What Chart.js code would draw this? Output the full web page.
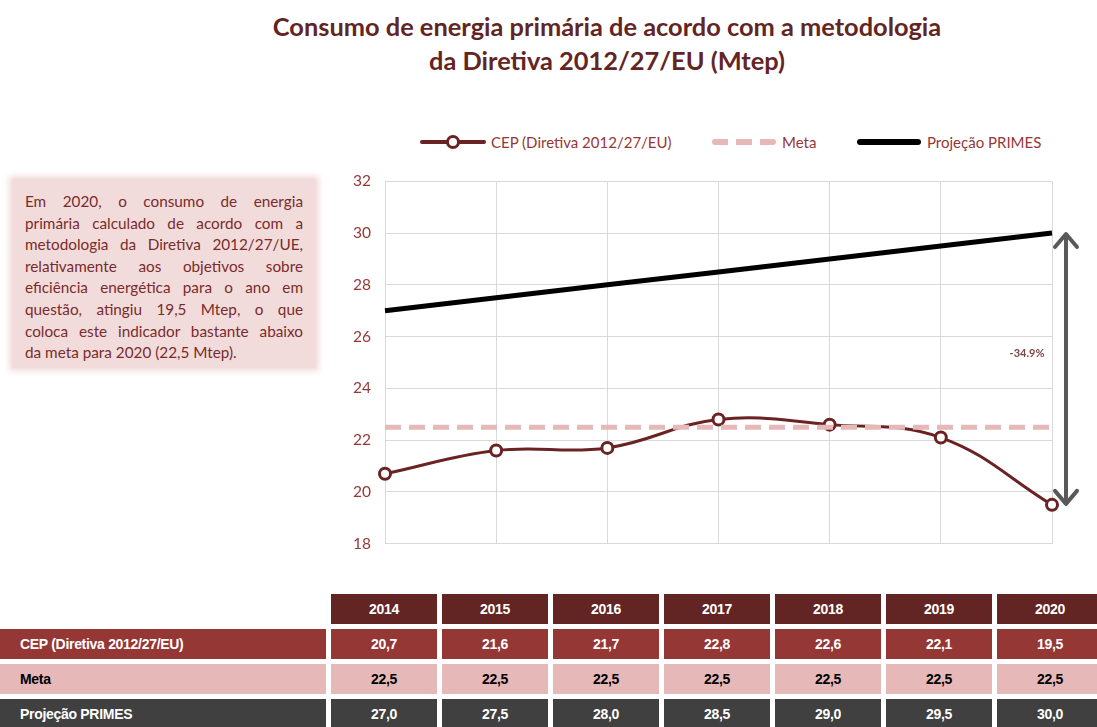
<!DOCTYPE html>
<html>
<head>
<meta charset="utf-8">
<script src="https://cdn.jsdelivr.net/npm/chart.js@4/dist/chart.umd.min.js"></script>
<style>
  body { margin: 0; width: 1097px; height: 727px; overflow: hidden; background: #fff; font-family: Lato, "Open Sans", sans-serif; position: relative; }
  #title { position: absolute; left: 0; width: 1214px; top: 9px; text-align: center; font-weight: bold; font-size: 25.4px; line-height: 34px; color: #632523; }
  #note { position: absolute; left: 12px; top: 179px; width: 278px; height: 165px; padding: 12px 13px; background: #f2dcdb; box-shadow: 0 0 6px 3px #f2dcdb;
          color: #7a2b2b; font-family: Lato, sans-serif; font-size: 15.3px; line-height: 21.6px; }
  #note div { white-space: nowrap; text-align: justify; text-align-last: justify; }
  #note div:last-child { text-align-last: left; }
  #legend { position: absolute; top: 130px; left: 0; height: 24px; }
  .lg { position: absolute; top: 0; height: 24px; font-size: 15px; line-height: 24px; color: #953735; white-space: nowrap; }
  #wrap { position: absolute; left: 330px; top: 158px; width: 767px; height: 409px; }
  #tbl { position: absolute; left: 0; top: 594px; width: 1200px; display: grid; grid-template-columns: 326px repeat(7, 106px); column-gap: 5px; row-gap: 5px;
         font-family: "Liberation Sans Narrow", "Arial Narrow", "Liberation Sans", sans-serif; font-stretch: condensed; font-weight: bold; font-size: 14px; letter-spacing: -0.3px; }
  #tbl div { height: 30px; line-height: 30px; text-align: center; }
  #tbl div.lab { text-align: left; padding-left: 20px; }
</style>
</head>
<body>
<div id="title">Consumo de energia primária de acordo com a metodologia<br>da Diretiva 2012/27/EU (Mtep)</div>
<div id="note">
  <div>Em 2020, o consumo de energia</div>
  <div>primária calculado de acordo com a</div>
  <div>metodologia da Diretiva 2012/27/UE,</div>
  <div>relativamente aos objetivos sobre</div>
  <div>eficiência energética para o ano em</div>
  <div>questão, atingiu 19,5 Mtep, o que</div>
  <div>coloca este indicador bastante abaixo</div>
  <div>da meta para 2020 (22,5 Mtep).</div>
</div>
<div id="legend"></div>
<div id="wrap"><canvas id="chart"></canvas></div>
<div id="tbl"></div>
<script>
var years = ['2014', '2015', '2016', '2017', '2018', '2019', '2020'];
var seriesNames = ['CEP (Diretiva 2012/27/EU)', 'Meta', 'Projeção PRIMES'];
var cep = [20.7, 21.6, 21.7, 22.8, 22.6, 22.1, 19.5];
var meta = [22.5, 22.5, 22.5, 22.5, 22.5, 22.5, 22.5];
var primes = [27.0, 27.5, 28.0, 28.5, 29.0, 29.5, 30.0];
var gapLabel = '-34.9%';

var cepColor = '#6a2323';
var metaColor = '#e6b9b8';
var primesColor = '#000000';

function fmt(v) { return v.toFixed(1).replace('.', ','); }

// legend
var legend = document.getElementById('legend');
legend.innerHTML =
  '<div class="lg" style="left:420px;width:66px"><div style="position:absolute;left:0;top:10px;width:66px;height:4px;background:' + cepColor + ';border-radius:2px"></div>' +
  '<div style="position:absolute;left:26px;top:5px;width:8px;height:8px;border:3px solid ' + cepColor + ';background:#fff;border-radius:50%"></div></div>' +
  '<div class="lg" style="left:491px">' + seriesNames[0] + '</div>' +
  '<div class="lg" style="left:712px;width:64px"><div style="position:absolute;left:0;top:9px;width:64px;height:6px;background:repeating-linear-gradient(90deg,' + metaColor + ' 0 16px,transparent 16px 24px);border-radius:3px"></div></div>' +
  '<div class="lg" style="left:782px">' + seriesNames[1] + '</div>' +
  '<div class="lg" style="left:857px;width:64px"><div style="position:absolute;left:0;top:9px;width:64px;height:6px;background:' + primesColor + ';border-radius:3px"></div></div>' +
  '<div class="lg" style="left:927px">' + seriesNames[2] + '</div>';

// table
var rows = [
  { name: seriesNames[0], vals: cep, bg: '#953735', fg: '#fff' },
  { name: seriesNames[1], vals: meta, bg: '#e6b9b8', fg: '#000' },
  { name: seriesNames[2], vals: primes, bg: '#404040', fg: '#fff' }
];
var html = '<div></div>';
years.forEach(function(y) { html += '<div style="background:#632523;color:#fff">' + y + '</div>'; });
rows.forEach(function(r) {
  html += '<div class="lab" style="background:' + r.bg + ';color:' + r.fg + '">' + r.name + '</div>';
  r.vals.forEach(function(v) { html += '<div style="background:' + r.bg + ';color:' + r.fg + '">' + fmt(v) + '</div>'; });
});
document.getElementById('tbl').innerHTML = html;

// double arrow between projection and actual value in the last year
var arrowPlugin = {
  id: 'gapArrow',
  afterDatasetsDraw: function(chart) {
    var ctx = chart.ctx, y = chart.scales.y, area = chart.chartArea;
    var last = years.length - 1;
    var x = area.right + 14;
    var y1 = y.getPixelForValue(primes[last]);
    var y2 = y.getPixelForValue(cep[last]);
    ctx.save();
    ctx.strokeStyle = '#595959';
    ctx.lineWidth = 4;
    ctx.lineCap = 'round';
    ctx.lineJoin = 'round';
    ctx.beginPath();
    ctx.moveTo(x, y1 + 2); ctx.lineTo(x, y2 - 2);
    ctx.moveTo(x - 11, y1 + 14); ctx.lineTo(x, y1 + 1); ctx.lineTo(x + 11, y1 + 14);
    ctx.moveTo(x - 11, y2 - 14); ctx.lineTo(x, y2 - 1); ctx.lineTo(x + 11, y2 - 14);
    ctx.stroke();
    ctx.fillStyle = '#7d4545';
    ctx.font = 'bold 11px Lato, sans-serif';
    ctx.textAlign = 'center';
    ctx.textBaseline = 'middle';
    ctx.fillText(gapLabel, area.right - 25, (y1 + y2) / 2 - 16);
    ctx.restore();
  }
};

new Chart(document.getElementById('chart').getContext('2d'), {
  type: 'line',
  data: {
    labels: years,
    datasets: [
      { label: seriesNames[2], data: primes, borderColor: primesColor, borderWidth: 5, pointRadius: 0, clip: false },
      { label: seriesNames[1], data: meta, borderColor: metaColor, borderWidth: 5, borderDash: [16, 8], pointRadius: 0, clip: false },
      { label: seriesNames[0], data: cep, borderColor: cepColor, borderWidth: 3, tension: 0.4,
        pointRadius: 5.5, pointBorderWidth: 3, pointBackgroundColor: '#fff', pointBorderColor: cepColor, clip: false }
    ]
  },
  options: {
    responsive: true,
    maintainAspectRatio: false,
    animation: false,
    layout: { padding: { left: 10, right: 45, top: 11, bottom: 12 } },
    plugins: { legend: { display: false }, tooltip: { enabled: false } },
    scales: {
      x: {
        ticks: { display: false },
        grid: { color: '#d9d9d9', drawTicks: false },
        border: { display: false },
        afterFit: function(s) { s.height = 0; }
      },
      y: {
        min: 18, max: 32,
        ticks: { stepSize: 2, padding: 14, color: '#953735', font: { family: 'Lato, sans-serif', size: 15.5 } },
        grid: { color: '#d9d9d9', drawTicks: false },
        border: { display: false },
        afterFit: function(s) { s.width = 45; }
      }
    }
  },
  plugins: [arrowPlugin]
});
</script>
</body>
</html>
